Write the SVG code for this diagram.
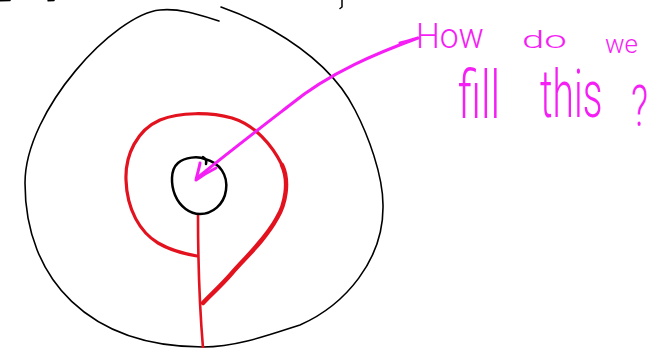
<svg xmlns="http://www.w3.org/2000/svg" width="655" height="348" viewBox="0 0 655 348">
  <style>
    .ink{fill:none;stroke-linecap:round;stroke-linejoin:round}
    .blk{stroke:#000}
    .red{stroke:#e3121f}
    .mag{stroke:#f51ef5}
    .hand{fill:#f51ef5;font-family:Roboto,"Liberation Sans",sans-serif;font-weight:300}
  </style>
  <rect width="655" height="348" fill="#fff"/>
  <g id="marks">
    <path class="ink blk" stroke-width="1.5" d="M0,0.8 L10,0.5 M48,0.8 L54,0.5 M342,0 L342,7 L340,8.5"/>
  </g>
  <g id="outer">
    <path class="ink blk" stroke-width="1.6" d="M219,21 C200,15 180,8 160,10 C115,14 25,110 25,183 C25,280 90,347 203,347 C236,347 269,335 300,325 C345,305 384,260 383,205 C383,175 368,135 355,110 C338,76 305,49 272,30 C256,21 238,13 221,7"/>
  </g>
  <g id="red-loop">
    <path class="ink red" stroke-width="3.2" d="M197,256 C185,254 170,250 158,243 C140,232 127,210 126,180 C125,155 137,130 160,120 C180,112 210,112 232,118 C255,125 272,145 282,165"/>
    <path class="ink red" stroke-width="4.4" d="M282,165 C290,182 285,205 277,218 C265,240 245,258 232,273 C220,287 210,295 203,303"/>
    <path class="ink red" stroke-width="2.6" d="M198,215 C198,260 199,300 203,348"/>
  </g>
  <g id="core">
    <path class="ink blk" stroke-width="2.5" d="M205,159 C198,156 185,157 178,163 C170,170 171,185 175,195 C180,207 190,214 200,214 C212,214 224,205 226,190 C228,175 220,163 205,159 M203,157 Q207,159 206,164"/>
  </g>
  <g id="connectors">
    <path class="ink mag" stroke-width="3" d="M400,43 C410,41 414,39 418,38 C380,52 330,72 290,105 C255,132 225,155 197,178"/>
    <path class="ink mag" stroke-width="3" d="M200,163 C199,169 197,175 196,180 C203,175 210,171 216,168"/>
  </g>
  <g id="note">
    <text class="hand" transform="translate(416,48) scale(0.93,1)" font-size="36" textLength="73" lengthAdjust="spacingAndGlyphs">How</text>
    <text class="hand" transform="translate(522,48) scale(1.6,1)" font-size="24" textLength="28" lengthAdjust="spacingAndGlyphs">do</text>
    <text class="hand" transform="translate(605,53)" font-size="26" textLength="33" lengthAdjust="spacingAndGlyphs">we</text>
    <text class="hand" transform="translate(458,118) scale(0.62,1)" font-size="66" textLength="68" lengthAdjust="spacingAndGlyphs">fill</text>
    <text class="hand" transform="translate(540,117) scale(0.6,1)" font-size="66" textLength="104" lengthAdjust="spacingAndGlyphs">this</text>
    <text class="hand" transform="translate(631,126) scale(0.63,1)" font-size="58" textLength="27" lengthAdjust="spacingAndGlyphs">?</text>
  </g>
</svg>
